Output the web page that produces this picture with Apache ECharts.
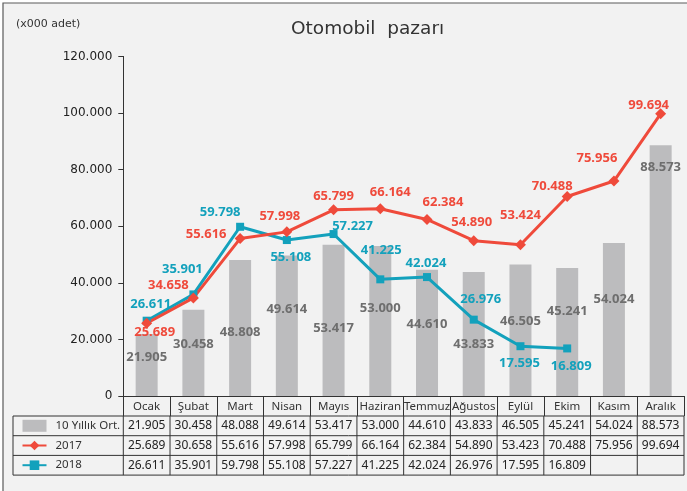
<!DOCTYPE html>
<html>
<head>
<meta charset="utf-8">
<script src="https://cdn.jsdelivr.net/npm/echarts@6/dist/echarts.min.js"></script>
<style>
  body { margin: 0; background: #fff; }
  #otomobil { width: 687px; height: 491px; }
</style>
</head>
<body>
<div id="otomobil"></div>
<script>
const months = ['Ocak', 'Şubat', 'Mart', 'Nisan', 'Mayıs', 'Haziran', 'Temmuz', 'Ağustos', 'Eylül', 'Ekim', 'Kasım', 'Aralık'];
const avg10 = [21905, 30458, 48088, 49614, 53417, 53000, 44610, 43833, 46505, 45241, 54024, 88573];
const sales2017 = [25689, 34658, 55616, 57998, 65799, 66164, 62384, 54890, 53424, 70488, 75956, 99694];
const sales2018 = [26611, 35901, 59798, 55108, 57227, 41225, 42024, 26976, 17595, 16809];
const yTicks = [0, 20000, 40000, 60000, 80000, 100000, 120000];

// text as printed on the bars (Mart reads 48.808 in the picture)
const avgBarText = ['21.905', '30.458', '48.808', '49.614', '53.417', '53.000', '44.610', '43.833', '46.505', '45.241', '54.024', '88.573'];
// text as printed in the data table
const table2017 = ['25.689', '30.658', '55.616', '57.998', '65.799', '66.164', '62.384', '54.890', '53.423', '70.488', '75.956', '99.694'];

// label placements (pixels), kept apart from the values
const barLabelDy = [23, 34, 72, 54, 83, 62, 55, 72, 57, 43, 56, 22];
const off2017 = [[8, 9], [-25, -13], [-34, -4], [-7, -16], [0, -13], [10, -16], [16, -17], [-2, -18], [0, -30], [-15, -10], [-17, -23], [-12, -9]];
const off2018 = [[4, -16], [-11, -25], [-20, -14], [4, 17], [19, -8], [1, -29], [-1, -14], [7, -20], [-1, 17], [4, 18]];

const FONT = 'DejaVu Sans';
const NOTO = 'Noto Sans';
const RED = '#ef4a3b';
const TEAL = '#13a1bc';
const fmt = v => (v / 1000).toFixed(3);

const chart = echarts.init(document.getElementById('otomobil'), null, { renderer: 'canvas' });

const option = {
    backgroundColor: '#fff',
    animation: false,
    textStyle: { fontFamily: FONT },
    title: [{
        text: 'Otomobil  pazarı',
        left: 291,
        top: 20,
        padding: 0,
        textStyle: { fontFamily: FONT, fontSize: 18.5, fontWeight: 'normal', color: '#333' }
    }, {
        text: '(x000 adet)',
        left: 16,
        top: 19,
        padding: 0,
        textStyle: { fontFamily: FONT, fontSize: 11, fontWeight: 'normal', color: '#333' }
    }],
    legend: {
        orient: 'vertical',
        left: 21.5,
        top: 419.8,
        padding: 0,
        itemWidth: 24,
        itemHeight: 12,
        itemGap: 7.7,
        data: [{ name: '10 Yıllık Ort.', icon: 'rect' }, '2017', '2018'],
        textStyle: { fontFamily: NOTO, fontSize: 11.5, color: '#333', padding: [0, 0, 0, 4] }
    },
    grid: {
        left: 123.3,
        right: 3,
        top: 56.4,
        bottom: 95
    },
    xAxis: {
        type: 'category',
        data: months,
        axisLine: { lineStyle: { color: '#333', width: 1 } },
        axisTick: { show: true, interval: 0, length: 20, lineStyle: { color: '#333' } },
        axisLabel: { interval: 0, margin: 5, fontSize: 11.5, color: '#333', fontFamily: NOTO }
    },
    yAxis: {
        type: 'value',
        min: yTicks[0],
        max: yTicks[yTicks.length - 1],
        interval: yTicks[1] - yTicks[0],
        splitLine: { show: false },
        axisLine: { show: true, lineStyle: { color: '#333', width: 1 } },
        axisTick: { show: true, length: 5, lineStyle: { color: '#333' } },
        axisLabel: {
            margin: 11,
            fontSize: 12,
            color: '#222',
            fontFamily: FONT,
            formatter: v => v === 0 ? '0' : fmt(v)
        }
    },
    series: [{
        name: '10 Yıllık Ort.',
        type: 'bar',
        barWidth: 22,
        itemStyle: { color: '#bcbcbe' },
        label: {
            show: true,
            align: 'center',
            verticalAlign: 'middle',
            fontFamily: NOTO,
            fontSize: 13,
            fontWeight: 'bold',
            color: '#6e6e6e',
            formatter: p => avgBarText[p.dataIndex]
        },
        data: avg10.map((v, i) => ({ value: v, label: { position: ['50%', barLabelDy[i]] } }))
    }, {
        name: '2018',
        type: 'line',
        symbol: 'rect',
        symbolSize: 8,
        lineStyle: { color: TEAL, width: 3 },
        itemStyle: { color: TEAL },
        label: {
            show: true,
            position: 'inside',
            align: 'center',
            verticalAlign: 'middle',
            fontFamily: NOTO,
            fontSize: 13,
            fontWeight: 'bold',
            color: TEAL,
            formatter: p => fmt(p.value)
        },
        data: sales2018.map((v, i) => ({ value: v, label: { offset: off2018[i] } }))
    }, {
        name: '2017',
        type: 'line',
        symbol: 'diamond',
        symbolSize: 11,
        lineStyle: { color: RED, width: 3 },
        itemStyle: { color: RED },
        label: {
            show: true,
            position: 'inside',
            align: 'center',
            verticalAlign: 'middle',
            fontFamily: NOTO,
            fontSize: 13,
            fontWeight: 'bold',
            color: RED,
            formatter: p => fmt(p.value)
        },
        data: sales2017.map((v, i) => ({ value: v, label: { offset: off2017[i] } }))
    }]
};

chart.setOption(option);

// data table under the axis, laid out from the category axis
const c0 = chart.convertToPixel({ xAxisIndex: 0 }, months[0]);
const c1 = chart.convertToPixel({ xAxisIndex: 0 }, months[1]);
const band = c1 - c0;
const axisY = chart.convertToPixel({ yAxisIndex: 0 }, 0);
const tableLeft = 13;
const plotLeft = c0 - band / 2;
const plotRight = c0 + band * (months.length - 0.5);
const headBottom = axisY + 20;
const rowH = 19.7;
const rowsText = [avg10.map(fmt), table2017, sales2018.map(fmt)];

const g = [];
g.push({
    type: 'rect', z: -10, silent: true,
    shape: { x: 3, y: 3, width: 720, height: 520 },
    style: { fill: '#f2f2f2', stroke: '#5a5a5a', lineWidth: 1.2 }
});
for (let r = 0; r <= rowsText.length; r++) {
    const y = headBottom + r * rowH;
    g.push({ type: 'line', shape: { x1: tableLeft, y1: y, x2: plotRight, y2: y }, style: { stroke: '#333', lineWidth: 1 } });
}
const tableBottom = headBottom + rowsText.length * rowH;
g.push({ type: 'line', shape: { x1: tableLeft, y1: headBottom, x2: tableLeft, y2: tableBottom }, style: { stroke: '#333', lineWidth: 1 } });
for (let k = 0; k <= months.length; k++) {
    const x = plotLeft + k * band;
    g.push({ type: 'line', shape: { x1: x, y1: headBottom, x2: x, y2: tableBottom }, style: { stroke: '#333', lineWidth: 1 } });
}
rowsText.forEach((row, r) => {
    row.forEach((t, i) => {
        g.push({
            type: 'text',
            x: chart.convertToPixel({ xAxisIndex: 0 }, months[i]),
            y: headBottom + (r + 0.5) * rowH,
            style: { text: t, fill: '#222', font: '12px "' + NOTO + '"', align: 'center', verticalAlign: 'middle' }
        });
    });
});

chart.setOption({ graphic: g });
</script>
</body>
</html>
